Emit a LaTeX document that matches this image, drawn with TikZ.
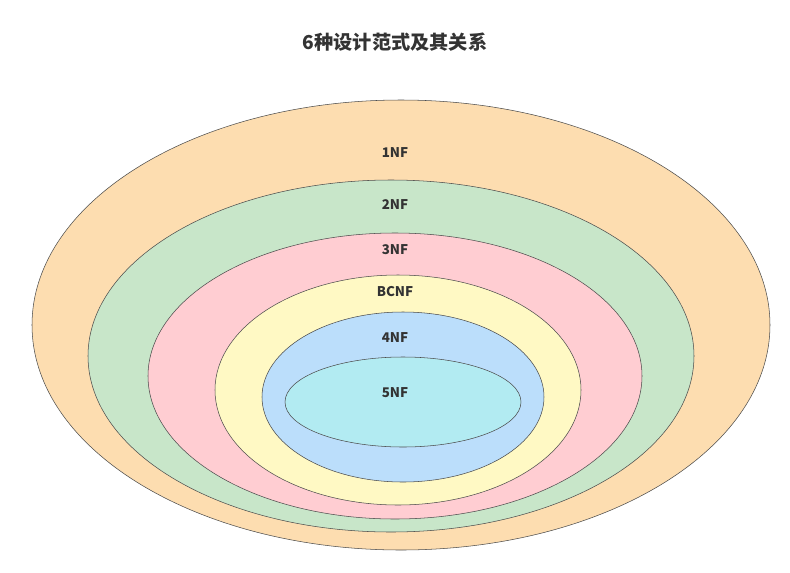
\documentclass[tikz,border=0pt]{standalone}
\usepackage{fontspec}
\setmainfont{Noto Sans CJK SC}
\usetikzlibrary{shapes.geometric}
\definecolor{nfone}{HTML}{FDDDB0}
\definecolor{nftwo}{HTML}{C8E6C9}
\definecolor{nfthree}{HTML}{FFCDD2}
\definecolor{nfbc}{HTML}{FFF9C4}
\definecolor{nffour}{HTML}{BBDEFB}
\definecolor{nffive}{HTML}{B2EBF2}
\definecolor{txtgray}{HTML}{333333}
\tikzset{ring/.style={ellipse, draw=black!70, line width=0.4pt, inner sep=0pt},
         lbl/.style={font=\bfseries, text=txtgray}}
\begin{document}
\begin{tikzpicture}[x=0.75pt,y=-0.75pt]
  \useasboundingbox (0,0) rectangle (790,572);
  \node[ring, fill=nfone, minimum width=0.75*738pt, minimum height=0.75*450pt] (one) at (401,325) {};
  \node[ring, fill=nftwo, minimum width=0.75*606pt, minimum height=0.75*352pt] (two) at (391,356) {};
  \node[ring, fill=nfthree, minimum width=0.75*494pt, minimum height=0.75*286pt] (three) at (395,376) {};
  \node[ring, fill=nfbc, minimum width=0.75*366pt, minimum height=0.75*230pt] (bc) at (398,390) {};
  \node[ring, fill=nffour, minimum width=0.75*282pt, minimum height=0.75*170pt] (four) at (403,397) {};
  \node[ring, fill=nffive, minimum width=0.75*236pt, minimum height=0.75*90pt] (five) at (403,402) {};
  % labels
  \node[lbl] (l1) at (395,153) {1NF};
  \node[lbl] (l2) at (395,205) {2NF};
  \node[lbl] (l3) at (395,250) {3NF};
  \node[lbl] (lbc) at (395,292) {BCNF};
  \node[lbl] (l4) at (395,338) {4NF};
  \node[lbl] (l5) at (395,393) {5NF};
  \node[font=\bfseries\Large, text=txtgray] (title) at (395,42) {6种设计范式及其关系};
\end{tikzpicture}
\end{document}
